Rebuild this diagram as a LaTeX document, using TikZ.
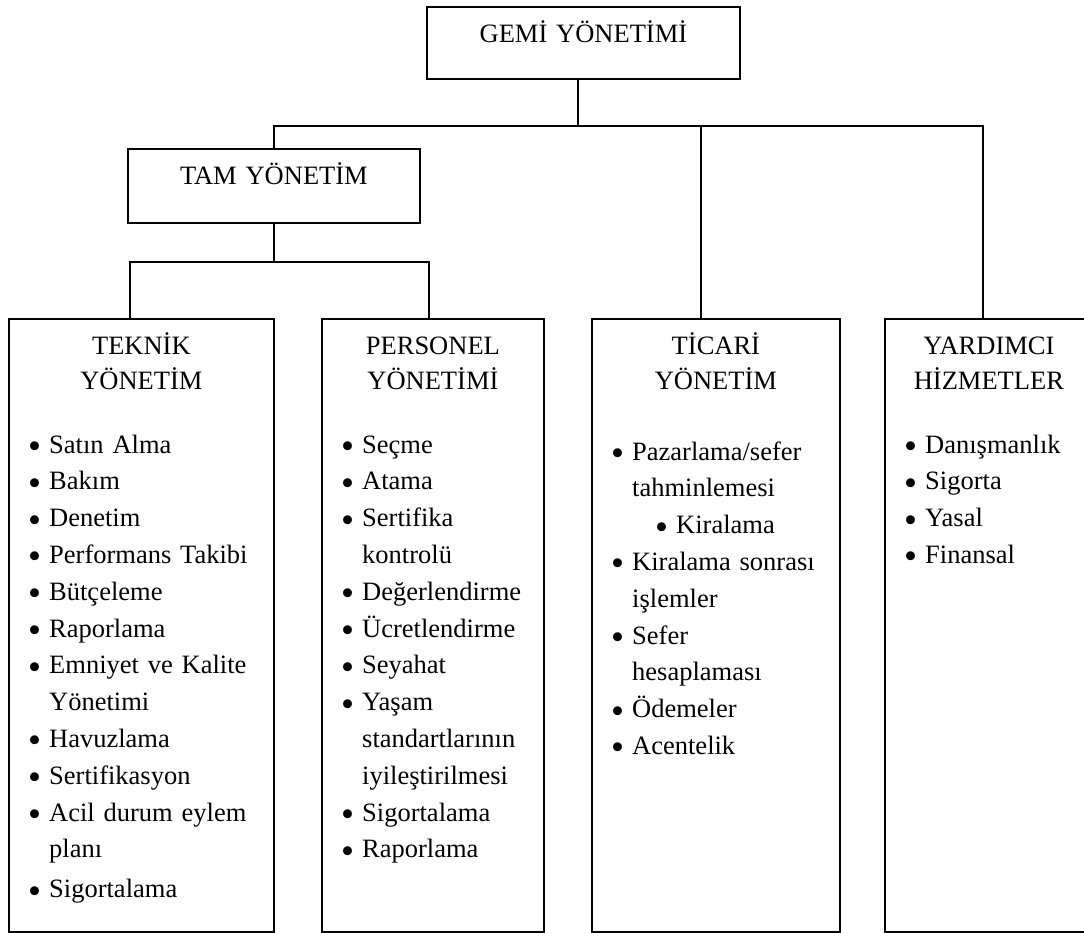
\documentclass[tikz,border=0pt]{standalone}
\usepackage{fontspec}
\setmainfont{Liberation Serif}
\usepackage{xcolor}
\usepackage{tikz}
\definecolor{orgline}{HTML}{000000}
\newcommand{\bitem}{\makebox[21pt][l]{\raisebox{-5.5pt}{\scalebox{1.4}{•}}}}
\newcommand{\bcont}{\hspace*{21pt}}
\tikzset{
  orgbox/.style={draw=orgline, line width=1.8pt, rectangle, inner sep=0pt, anchor=north west},
  headtext/.style={font=\fontsize{26.5}{35}\selectfont, align=center, text width=260pt, inner sep=0pt, anchor=base},
  listtext/.style={font=\fontsize{26.5}{36.8}\selectfont, align=left, text width=250pt, inner sep=0pt, anchor=base west},
  link/.style={draw=orgline, line width=1.8pt},
}

\begin{document}
\begin{tikzpicture}[x=1pt, y=-1pt]
  \useasboundingbox (0,0) rectangle (1084,932);
  % boxes
  \node[orgbox, minimum width=313pt, minimum height=72pt] (gemi) at (426,6) {};
  \node[orgbox, minimum width=292pt, minimum height=74pt] (tam) at (127,148) {};
  \node[orgbox, minimum width=265pt, minimum height=613pt] (teknik) at (8,318) {};
  \node[orgbox, minimum width=222pt, minimum height=613pt] (personel) at (321,318) {};
  \node[orgbox, minimum width=248pt, minimum height=613pt] (ticari) at (591,318) {};
  \node[orgbox, minimum width=208pt, minimum height=613pt] (yardimci) at (884,318) {};

  % titles
  \node[headtext] (gemi-t) at ([yshift=-36pt]gemi.north) {GEMİ YÖNETİMİ};
  \node[headtext] (tam-t) at ([yshift=-36pt]tam.north) {TAM YÖNETİM};
  \node[headtext] (teknik-t) at ([yshift=-36pt]teknik.north) {TEKNİK\\YÖNETİM};
  \node[headtext] (personel-t) at ([yshift=-36pt]personel.north) {PERSONEL\\YÖNETİMİ};
  \node[headtext] (ticari-t) at ([yshift=-36pt]ticari.north) {TİCARİ\\YÖNETİM};
  \node[headtext] (yardimci-t) at ([yshift=-36pt]yardimci.north) {YARDIMCI\\HİZMETLER};

  % lists
  \node[listtext] (teknik-l) at ([xshift=20pt, yshift=-135pt]teknik.north west) {%
    \bitem Satın Alma\\
    \bitem Bakım\\
    \bitem Denetim\\
    \bitem Performans Takibi\\
    \bitem Bütçeleme\\
    \bitem Raporlama\\
    \bitem Emniyet ve Kalite\\
    \bcont Yönetimi\\
    \bitem Havuzlama\\
    \bitem Sertifikasyon\\
    \bitem Acil durum eylem\\
    \bcont planı\\[3pt]
    \bitem Sigortalama};
  \node[listtext] (personel-l) at ([xshift=20pt, yshift=-135pt]personel.north west) {%
    \bitem Seçme\\
    \bitem Atama\\
    \bitem Sertifika\\
    \bcont kontrolü\\
    \bitem Değerlendirme\\
    \bitem Ücretlendirme\\
    \bitem Seyahat\\
    \bitem Yaşam\\
    \bcont standartlarının\\
    \bcont iyileştirilmesi\\
    \bitem Sigortalama\\
    \bitem Raporlama};
  \node[listtext] (ticari-l) at ([xshift=20pt, yshift=-142pt]ticari.north west) {%
    \bitem Pazarlama/sefer\\
    \bcont tahminlemesi\\
    \hspace*{44pt}\bitem Kiralama\\
    \bitem Kiralama sonrası\\
    \bcont işlemler\\
    \bitem Sefer\\
    \bcont hesaplaması\\
    \bitem Ödemeler\\
    \bitem Acentelik};
  \node[listtext] (yardimci-l) at ([xshift=20pt, yshift=-135pt]yardimci.north west) {%
    \bitem Danışmanlık\\
    \bitem Sigorta\\
    \bitem Yasal\\
    \bitem Finansal};

  % connectors
  \coordinate (bar1) at (0,126);
  \coordinate (bar2) at (0,262);
  \coordinate (gemi-c) at ([xshift=-5.5pt]gemi.south);
  \coordinate (ticari-c) at ([xshift=-15pt]ticari.north);
  \coordinate (yard-c) at ([xshift=-6pt]yardimci.north);
  \coordinate (teknik-c) at ([xshift=-11.5pt]teknik.north);
  \coordinate (pers-c) at ([xshift=-4pt]personel.north);
  \draw[link] (gemi-c) -- (gemi-c |- bar1);
  \draw[link] (tam.north) |- (yard-c |- bar1) -- (yard-c);
  \draw[link] (ticari-c) -- (ticari-c |- bar1);
  \draw[link] (tam.south) -- (tam.south |- bar2);
  \draw[link] (teknik-c) -- (teknik-c |- bar2) -- (pers-c |- bar2) -- (pers-c);
\end{tikzpicture}
\end{document}
